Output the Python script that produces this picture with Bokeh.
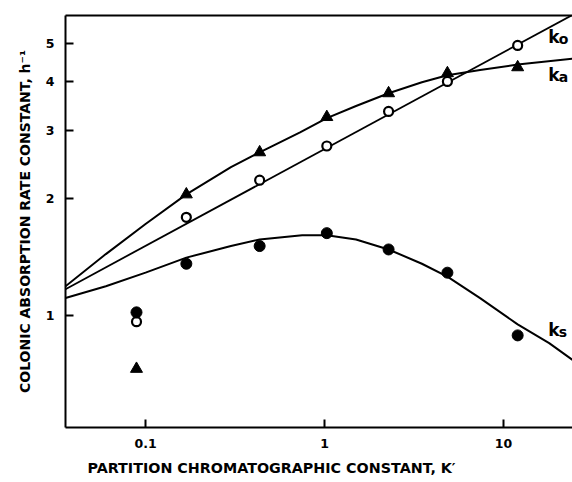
from bokeh.plotting import figure
from bokeh.models import Range1d, FixedTicker, LogAxis, Label, Title
from bokeh.embed import file_html
from bokeh.resources import INLINE

# ---- data ----
k_prime = [0.089, 0.169, 0.434, 1.03, 2.28, 4.86, 12.0]
ka_obs = [0.73, 2.05, 2.63, 3.24, 3.73, 4.20, 4.35]
ko_obs = [0.965, 1.79, 2.23, 2.73, 3.35, 4.00, 4.95]
ks_obs = [1.02, 1.36, 1.51, 1.63, 1.48, 1.29, 0.89]

ka_fit_x = [0.0357, 0.06, 0.1, 0.169, 0.3, 0.434, 0.73, 1.03, 1.5, 2.28, 3.5, 4.86, 7.4, 12.0, 24.3]
ka_fit_y = [1.19, 1.44, 1.72, 2.05, 2.41, 2.63, 2.96, 3.22, 3.46, 3.73, 3.98, 4.15, 4.28, 4.42, 4.58]

ko_fit_x = [0.0357, 24.3]
ko_fit_y = [1.17, 5.93]

ks_fit_x = [0.0357, 0.06, 0.1, 0.169, 0.3, 0.434, 0.75, 1.03, 1.5, 2.28, 3.5, 4.86, 7.4, 12.0, 18.0, 24.3]
ks_fit_y = [1.11, 1.19, 1.29, 1.41, 1.51, 1.57, 1.61, 1.61, 1.57, 1.48, 1.36, 1.26, 1.11, 0.95, 0.85, 0.77]

x_ticks = [0.1, 1, 10]
x_tick_labels = ["0.1", "1", "10"]
y_ticks = [1, 2, 3, 4, 5]
y_tick_labels = ["1", "2", "3", "4", "5"]

x_title = "PARTITION CHROMATOGRAPHIC CONSTANT, K\u2032"
y_title = "COLONIC ABSORPTION RATE CONSTANT, h\u207b\u00b9"

FONT = "DejaVu Sans"

p = figure(width=572, height=482, x_axis_type="log", y_axis_type="log",
           x_range=Range1d(0.0357, 24.3), y_range=Range1d(0.516, 5.91),
           output_backend="svg", toolbar_location=None,
           min_border_left=65, min_border_right=0, min_border_top=15, min_border_bottom=0)
p.outline_line_color = None
p.grid.visible = False
p.background_fill_color = "white"
p.border_fill_color = "white"

for ax, ticks, labels in [(p.xaxis[0], x_ticks, x_tick_labels), (p.yaxis[0], y_ticks, y_tick_labels)]:
    ax.ticker = FixedTicker(ticks=ticks, minor_ticks=[])
    ax.major_label_overrides = {t: l for t, l in zip(ticks, labels)}
    ax.axis_line_width = 2
    ax.axis_line_color = "black"
    ax.major_tick_line_width = 2
    ax.major_tick_in = 8
    ax.major_tick_out = 0
    ax.minor_tick_in = 0
    ax.minor_tick_out = 0
    ax.major_label_text_font = FONT
    ax.major_label_text_font_style = "bold"
    ax.major_label_text_font_size = "12.5px"
    ax.major_label_text_color = "black"
    ax.major_label_standoff = 11

p.yaxis[0].axis_label = y_title
p.yaxis[0].axis_label_text_font = FONT
p.yaxis[0].axis_label_text_font_style = "bold"
p.yaxis[0].axis_label_text_font_size = "14px"
p.yaxis[0].axis_label_text_color = "black"
p.yaxis[0].axis_label_standoff = 10

top = LogAxis(ticker=FixedTicker(ticks=[], minor_ticks=[]), axis_line_width=2,
              major_label_text_font_size="0px", major_tick_in=0, major_tick_out=0,
              minor_tick_in=0, minor_tick_out=0, major_label_standoff=0)
p.add_layout(top, "above")

p.add_layout(Title(text=x_title, align="left", offset=22, text_font=FONT,
                   text_font_style="bold", text_font_size="14.3px", text_color="black",
                   standoff=14), "below")

# fitted curves
p.line(ka_fit_x, ka_fit_y, line_color="black", line_width=2)
p.line(ko_fit_x, ko_fit_y, line_color="black", line_width=1.8)
p.line(ks_fit_x, ks_fit_y, line_color="black", line_width=2)

# observations
p.scatter(k_prime, ka_obs, marker="triangle", size=12, fill_color="black", line_color="black")
p.scatter(k_prime, ko_obs, marker="circle", size=9, fill_color="white", line_color="black", line_width=2.2)
p.scatter(k_prime, ks_obs, marker="circle", size=11, fill_color="black", line_color="black")

# curve labels
for y, sub in [(5.19, "o"), (4.15, "a"), (0.921, "s")]:
    p.add_layout(Label(x=17.8, y=y, text="k", text_font=FONT, text_font_style="bold",
                       text_font_size="17px", text_baseline="alphabetic", text_color="black"))
    p.add_layout(Label(x=17.8, y=y, x_offset=10.5, y_offset=-2, text=sub, text_font=FONT,
                       text_font_style="bold", text_font_size="14px",
                       text_baseline="alphabetic", text_color="black"))

open("out.html", "w").write(file_html(p, INLINE))
